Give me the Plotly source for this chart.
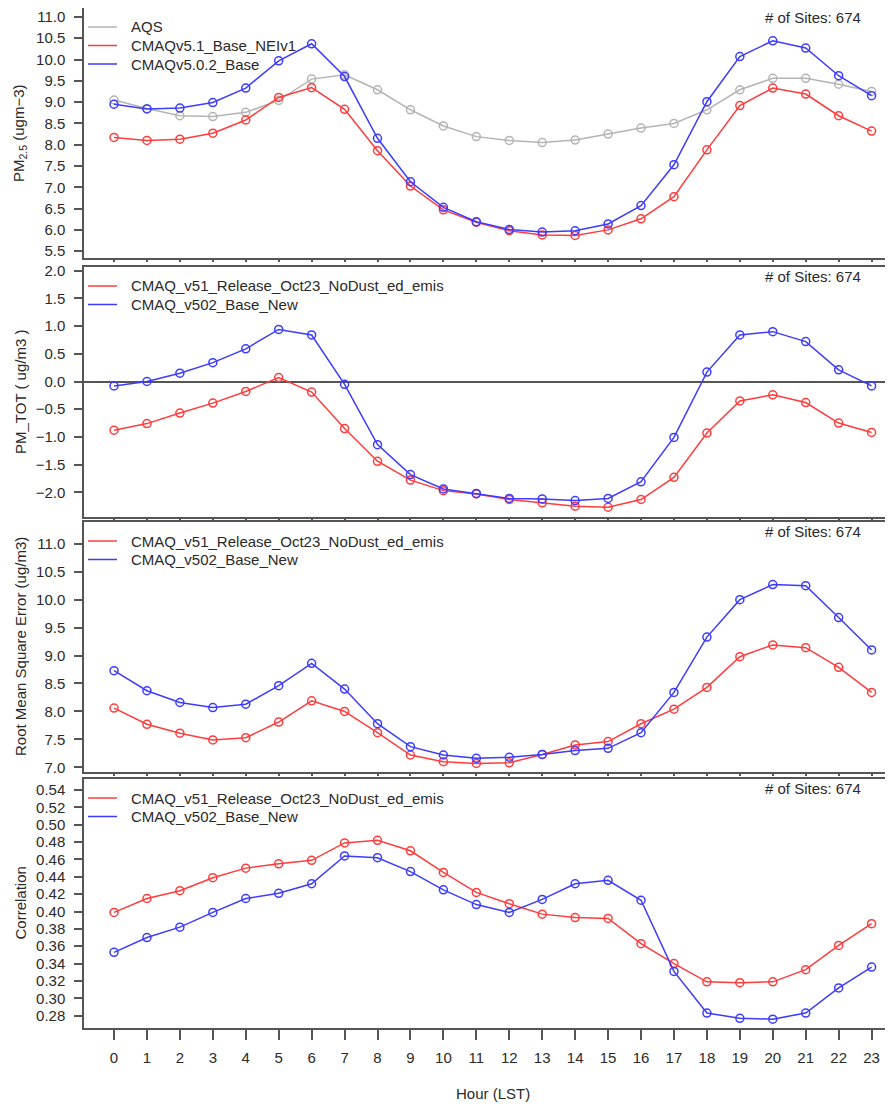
import plotly.graph_objects as go

hours = list(range(24))
x_tick_labels = [str(h) for h in hours]

# Panel 1: PM2.5
aqs = [9.05, 8.85, 8.68, 8.66, 8.76, 9.04, 9.54, 9.64, 9.29, 8.82, 8.44, 8.19,
       8.10, 8.05, 8.11, 8.25, 8.39, 8.50, 8.82, 9.29, 9.56, 9.56, 9.42, 9.25]
cmaq51_p1 = [8.17, 8.10, 8.13, 8.27, 8.58, 9.11, 9.34, 8.83, 7.86, 7.03, 6.47, 6.18,
             5.98, 5.88, 5.87, 6.00, 6.26, 6.78, 7.88, 8.92, 9.33, 9.19, 8.68, 8.32]
cmaq502_p1 = [8.95, 8.84, 8.86, 8.99, 9.33, 9.97, 10.37, 9.60, 8.15, 7.13, 6.53, 6.19,
              6.01, 5.95, 5.98, 6.14, 6.57, 7.53, 9.01, 10.07, 10.44, 10.27, 9.62, 9.15]

# Panel 2: PM_TOT bias
bias_v51 = [-0.88, -0.76, -0.57, -0.39, -0.18, 0.07, -0.19, -0.85, -1.44, -1.78, -1.97, -2.03,
            -2.13, -2.19, -2.25, -2.27, -2.13, -1.73, -0.93, -0.35, -0.24, -0.38, -0.75, -0.92]
bias_v502 = [-0.08, 0.00, 0.15, 0.34, 0.59, 0.94, 0.84, -0.05, -1.14, -1.68, -1.94, -2.02,
             -2.11, -2.12, -2.15, -2.11, -1.81, -1.01, 0.17, 0.84, 0.90, 0.72, 0.21, -0.08]

# Panel 3: RMSE
rmse_v51 = [8.06, 7.77, 7.61, 7.49, 7.53, 7.81, 8.19, 8.00, 7.62, 7.22, 7.10, 7.07,
            7.08, 7.23, 7.40, 7.46, 7.78, 8.04, 8.43, 8.98, 9.19, 9.14, 8.79, 8.34]
rmse_v502 = [8.73, 8.37, 8.16, 8.07, 8.13, 8.46, 8.86, 8.40, 7.78, 7.37, 7.22, 7.16,
             7.18, 7.23, 7.30, 7.34, 7.62, 8.34, 9.33, 10.00, 10.27, 10.25, 9.68, 9.10]

# Panel 4: Correlation
corr_v51 = [0.399, 0.415, 0.424, 0.439, 0.450, 0.455, 0.459, 0.479, 0.482, 0.470, 0.445, 0.422,
            0.409, 0.397, 0.393, 0.392, 0.363, 0.340, 0.319, 0.318, 0.319, 0.333, 0.361, 0.386]
corr_v502 = [0.353, 0.370, 0.382, 0.399, 0.415, 0.421, 0.432, 0.464, 0.462, 0.446, 0.425, 0.408,
             0.399, 0.414, 0.432, 0.436, 0.413, 0.331, 0.283, 0.277, 0.276, 0.283, 0.312, 0.336]

sites_text = "# of Sites: 674"
names_p1 = ["AQS", "CMAQv5.1_Base_NEIv1", "CMAQv5.0.2_Base"]
names_rest = ["CMAQ_v51_Release_Oct23_NoDust_ed_emis", "CMAQ_v502_Base_New"]
ytitles = ["PM<sub>2.5</sub> (ugm\u22123)", "PM_TOT ( ug/m3 )",
           "Root Mean Square Error (ug/m3)", "Correlation"]

GRAY = "#b4b4b4"
RED = "#ff3c3c"
BLUE = "#3c3cff"
TXT = "#2a2a2a"
AXC = "#555555"
FONT = "Liberation Sans"
FS = 15

# page is drawn with the browser's 8px body margin, so figure = page - 8
OFF = 8
W, H = 893 - OFF, 1104 - OFF


def px(p):
    return min(1.0, max(0.0, (p - OFF) / W))


def py(p):
    return min(1.0, max(0.0, 1 - (p - OFF) / H))


# panel pixel boxes on the page (top, bottom)
boxes = [(8, 258), (267, 517), (522, 772), (779, 1028)]
x_left_px = 84
xrange_ = [-0.911, 23.65]

fig = go.Figure()

panels = [
    ([aqs, cmaq51_p1, cmaq502_p1], [GRAY, RED, BLUE], names_p1),
    ([bias_v51, bias_v502], [RED, BLUE], names_rest),
    ([rmse_v51, rmse_v502], [RED, BLUE], names_rest),
    ([corr_v51, corr_v502], [RED, BLUE], names_rest),
]

for i, (series, colors, names) in enumerate(panels):
    xa = "x" if i == 0 else f"x{i+1}"
    ya = "y" if i == 0 else f"y{i+1}"
    for s, c, n in zip(series, colors, names):
        fig.add_trace(go.Scatter(
            x=hours, y=s, mode="lines+markers", xaxis=xa, yaxis=ya, name=n,
            line=dict(color=c, width=1.5),
            marker=dict(symbol="circle-open", size=8, color=c, line=dict(width=1.5)),
            showlegend=False, hoverinfo="skip"))

yranges = [[5.34, 11.21], [-2.446, 2.067], [6.916, 11.39], [0.2658, 0.5527]]
ytickvals = [
    [5.5 + 0.5 * k for k in range(12)],
    [-2.0 + 0.5 * k for k in range(9)],
    [7.0 + 0.5 * k for k in range(9)],
    [0.28 + 0.02 * k for k in range(14)],
]
yfmt = [".1f", ".1f", ".1f", ".2f"]

layout = dict(
    width=W, height=H, margin=dict(l=0, r=0, t=0, b=0, autoexpand=False),
    paper_bgcolor="white", plot_bgcolor="white",
    font=dict(family=FONT, color=TXT, size=FS),
    showlegend=False,
)

annotations = []
shapes = []
row_offsets = [19, 37.5, 56]
for i, (top, bot) in enumerate(boxes):
    sfx = "" if i == 0 else str(i + 1)
    dom = [py(bot), py(top)]
    layout[f"xaxis{sfx}"] = dict(
        domain=[px(x_left_px), 1.0], range=xrange_, anchor=f"y{sfx}",
        showgrid=False, zeroline=False, showline=True, mirror=True,
        linecolor=AXC, linewidth=1.5,
        tickmode="array", tickvals=hours, ticktext=x_tick_labels,
        showticklabels=(i == 3),
        ticks="outside", ticklen=10 if i == 3 else 2, tickcolor=AXC, tickwidth=1.5,
        tickfont=dict(size=FS, color=TXT, family=FONT),
        ticklabelstandoff=5, automargin=False,
    )
    layout[f"yaxis{sfx}"] = dict(
        domain=dom, range=yranges[i], anchor=f"x{sfx}",
        showgrid=False, showline=True, mirror=True,
        linecolor=AXC, linewidth=1.5,
        zeroline=(i == 1), zerolinecolor=AXC, zerolinewidth=1.5,
        tickmode="array", tickvals=ytickvals[i],
        ticktext=[format(v, yfmt[i]).replace("-", "\u2212") for v in ytickvals[i]],
        ticks="outside", ticklen=8, tickcolor=AXC, tickwidth=1.5,
        tickfont=dict(size=FS, color=TXT, family=FONT),
        ticklabelstandoff=6, automargin=False,
    )
    # manual legend: line sample + label
    names = panels[i][2]
    colors = panels[i][1]
    for k, (n, c) in enumerate(zip(names, colors)):
        yy = py(top + row_offsets[k])
        shapes.append(dict(type="line", xref="paper", yref="paper",
                           x0=px(88), x1=px(117), y0=yy, y1=yy,
                           line=dict(color=c, width=1.5)))
        annotations.append(dict(
            text=n, x=px(129), y=yy, xref="paper", yref="paper",
            xanchor="left", yanchor="middle", showarrow=False,
            font=dict(size=FS, color=TXT, family=FONT)))
    annotations.append(dict(
        text=sites_text, x=px(863), y=py(top + 9), xref="paper", yref="paper",
        xanchor="right", yanchor="middle", showarrow=False,
        font=dict(size=FS, color=TXT, family=FONT)))
    annotations.append(dict(
        text=ytitles[i], x=px(20), y=py((top + bot) / 2), xref="paper", yref="paper",
        xanchor="center", yanchor="middle", textangle=-90, showarrow=False,
        font=dict(size=FS, color=TXT, family=FONT)))

annotations.append(dict(
    text="Hour (LST)", x=px(493), y=py(1093), xref="paper", yref="paper",
    xanchor="center", yanchor="middle", showarrow=False,
    font=dict(size=FS, color=TXT, family=FONT)))
layout["annotations"] = annotations
layout["shapes"] = shapes

fig.update_layout(**layout)
fig.write_html("out.html")
